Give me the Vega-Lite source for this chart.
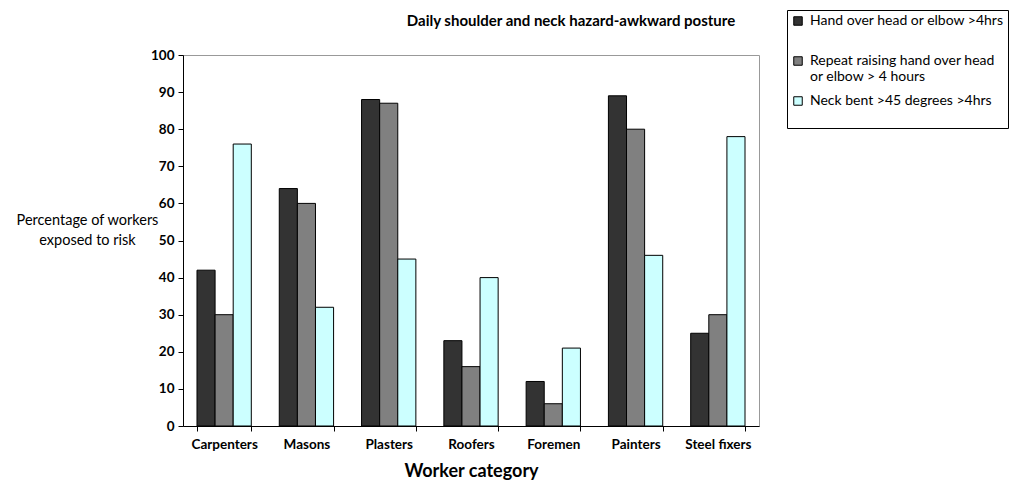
{
  "$schema": "https://vega.github.io/schema/vega-lite/v6.json",
  "width": 576,
  "height": 371,
  "autosize": {"type": "none"},
  "padding": {"left": 183, "top": 55, "right": 250, "bottom": 59},
  "background": "white",
  "config": {
    "font": "Lato",
    "view": {"stroke": "#999999", "strokeWidth": 1}
  },
  "title": {
    "text": "Daily shoulder  and neck hazard-awkward posture",
    "fontSize": 15,
    "fontWeight": "bold",
    "font": "Lato",
    "color": "black",
    "anchor": "middle",
    "offset": 28,
    "dx": 100,
    "dy": 47
  },
  "data": {
    "values": [
      {"category": "Carpenters", "series": "Hand over head or elbow >4hrs", "value": 42},
      {"category": "Carpenters", "series": "Repeat raising hand over head or elbow > 4 hours", "value": 30},
      {"category": "Carpenters", "series": "Neck bent >45 degrees >4hrs", "value": 76},
      {"category": "Masons", "series": "Hand over head or elbow >4hrs", "value": 64},
      {"category": "Masons", "series": "Repeat raising hand over head or elbow > 4 hours", "value": 60},
      {"category": "Masons", "series": "Neck bent >45 degrees >4hrs", "value": 32},
      {"category": "Plasters", "series": "Hand over head or elbow >4hrs", "value": 88},
      {"category": "Plasters", "series": "Repeat raising hand over head or elbow > 4 hours", "value": 87},
      {"category": "Plasters", "series": "Neck bent >45 degrees >4hrs", "value": 45},
      {"category": "Roofers", "series": "Hand over head or elbow >4hrs", "value": 23},
      {"category": "Roofers", "series": "Repeat raising hand over head or elbow > 4 hours", "value": 16},
      {"category": "Roofers", "series": "Neck bent >45 degrees >4hrs", "value": 40},
      {"category": "Foremen", "series": "Hand over head or elbow >4hrs", "value": 12},
      {"category": "Foremen", "series": "Repeat raising hand over head or elbow > 4 hours", "value": 6},
      {"category": "Foremen", "series": "Neck bent >45 degrees >4hrs", "value": 21},
      {"category": "Painters", "series": "Hand over head or elbow >4hrs", "value": 89},
      {"category": "Painters", "series": "Repeat raising hand over head or elbow > 4 hours", "value": 80},
      {"category": "Painters", "series": "Neck bent >45 degrees >4hrs", "value": 46},
      {"category": "Steel fixers", "series": "Hand over head or elbow >4hrs", "value": 25},
      {"category": "Steel fixers", "series": "Repeat raising hand over head or elbow > 4 hours", "value": 30},
      {"category": "Steel fixers", "series": "Neck bent >45 degrees >4hrs", "value": 78}
    ]
  },
  "mark": {"type": "bar", "stroke": "black", "strokeWidth": 1},
  "encoding": {
    "x": {
      "field": "category",
      "type": "nominal",
      "sort": ["Carpenters", "Masons", "Plasters", "Roofers", "Foremen", "Painters", "Steel fixers"],
      "scale": {"paddingInner": 0.34, "paddingOuter": 0.17},
      "axis": {
        "title": "Worker category",
        "titleFontSize": 18,
        "titleFontWeight": "bold",
        "titleColor": "black",
        "titlePadding": 12,
        "labelAngle": 0,
        "labelFontSize": 13.5,
        "labelFontWeight": "bold",
        "labelColor": "black",
        "labelPadding": 6,
        "tickBand": "extent",
        "tickColor": "black",
        "tickSize": 5,
        "domainColor": "black",
        "domainWidth": 1
      }
    },
    "xOffset": {
      "field": "series",
      "type": "nominal",
      "sort": ["Hand over head or elbow >4hrs", "Repeat raising hand over head or elbow > 4 hours", "Neck bent >45 degrees >4hrs"],
      "scale": {"paddingInner": 0, "paddingOuter": 0}
    },
    "y": {
      "field": "value",
      "type": "quantitative",
      "scale": {"domain": [0, 100]},
      "axis": {
        "values": [0, 10, 20, 30, 40, 50, 60, 70, 80, 90, 100],
        "grid": false,
        "title": ["Percentage of workers", "exposed to risk"],
        "titleAngle": 0,
        "titleAlign": "center",
        "titleBaseline": "middle",
        "titleFontWeight": "normal",
        "titleFontSize": 14.5,
        "titleColor": "black",
        "titleX": -96,
        "titleY": 165,
        "titleLineHeight": 20,
        "labelFontSize": 13.5,
        "labelFontWeight": "bold",
        "labelColor": "black",
        "labelPadding": 4,
        "tickColor": "black",
        "tickSize": 5,
        "domainColor": "black"
      }
    },
    "color": {
      "field": "series",
      "type": "nominal",
      "sort": ["Hand over head or elbow >4hrs", "Repeat raising hand over head or elbow > 4 hours", "Neck bent >45 degrees >4hrs"],
      "scale": {
        "domain": ["Hand over head or elbow >4hrs", "Repeat raising hand over head or elbow > 4 hours", "Neck bent >45 degrees >4hrs"],
        "range": ["#333333", "#808080", "#CCFFFF"]
      },
      "legend": {
        "title": null,
        "orient": "none",
        "legendX": 604,
        "legendY": -45,
        "strokeColor": "black",
        "fillColor": "white",
        "padding": 4,
        "symbolType": "square",
        "symbolSize": 72,
        "symbolStrokeColor": "black",
        "symbolStrokeWidth": 1,
        "labelFontSize": 14,
        "labelColor": "black",
        "labelLimit": 300,
        "labelLineHeight": 19,
        "labelOffset": 5,
        "labelExpr": "datum.label == 'Repeat raising hand over head or elbow > 4 hours' ? ['Repeat raising hand over head', 'or elbow > 4 hours'] : (datum.label == 'Hand over head or elbow >4hrs' ? ['Hand over head or elbow >4hrs', ' '] : ['Neck bent >45 degrees >4hrs', ' '])",
        "rowPadding": 10
      }
    }
  }
}
